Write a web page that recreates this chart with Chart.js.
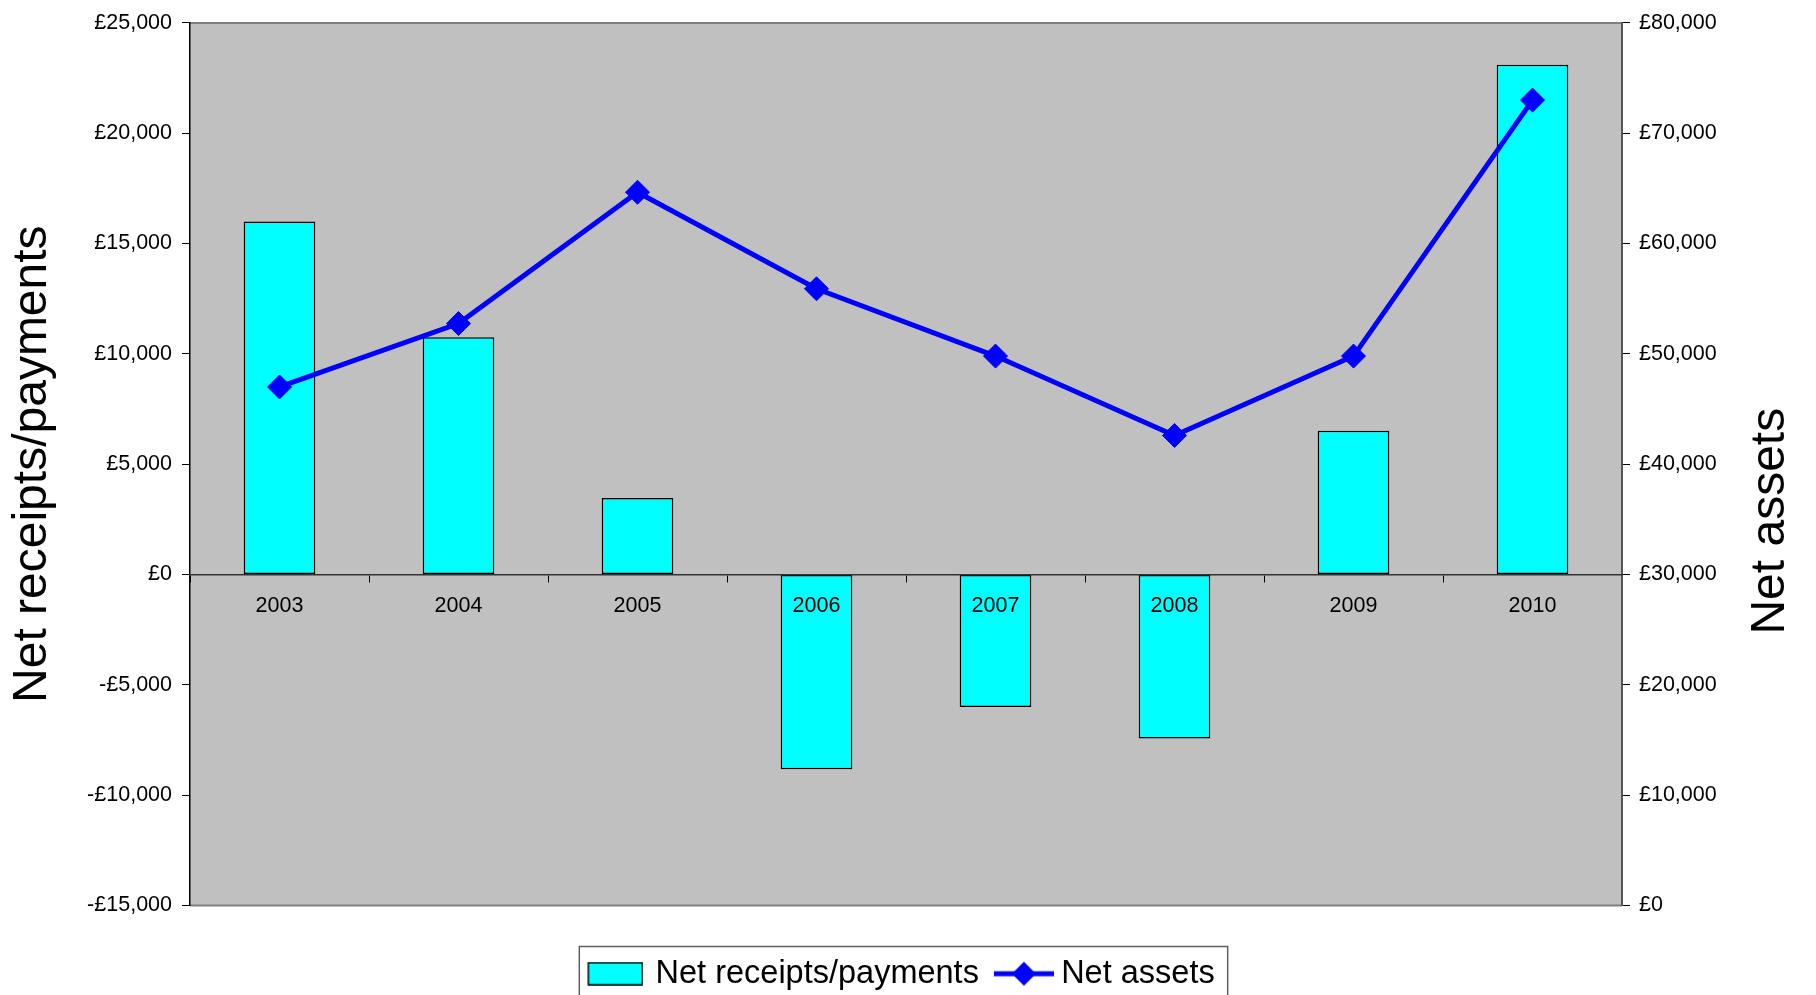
<!DOCTYPE html>
<html>
<head>
<meta charset="utf-8">
<script src="https://cdn.jsdelivr.net/npm/chart.js@4.4.1/dist/chart.umd.min.js"></script>
<style>
  html, body { margin: 0; padding: 0; background: #fff; overflow: hidden; }
  #wrap { width: 1816px; height: 995px; }
</style>
</head>
<body>
<div id="wrap"><canvas id="chart"></canvas></div>
<script>
// values
const years = ["2003", "2004", "2005", "2006", "2007", "2008", "2009", "2010"];
const netReceipts = [16000, 10750, 3470, -8830, -6000, -7430, 6520, 23100];
const netAssets = [47000, 52750, 64650, 55900, 49800, 42600, 49800, 73000];
const leftTicks = [-15000, -10000, -5000, 0, 5000, 10000, 15000, 20000, 25000];
const rightTicks = [0, 10000, 20000, 30000, 40000, 50000, 60000, 70000, 80000];

const FONT = '"Liberation Sans", Arial, sans-serif';
Chart.defaults.font.family = FONT;
Chart.defaults.color = "#000";

function pounds(v) {
  return (v < 0 ? "-" : "") + "£" + Math.abs(v).toLocaleString("en-GB");
}

// legend icons
function barIcon() {
  const c = document.createElement("canvas");
  c.width = 60; c.height = 24;
  const g = c.getContext("2d");
  g.fillStyle = "#00ffff";
  g.fillRect(5, 1, 54, 22);
  g.strokeStyle = "#000";
  g.lineWidth = 1.5;
  g.strokeRect(5, 1, 54, 22);
  return c;
}
function lineIcon() {
  const c = document.createElement("canvas");
  c.width = 70; c.height = 26;
  const g = c.getContext("2d");
  g.strokeStyle = "#0000ff";
  g.lineWidth = 5;
  g.beginPath(); g.moveTo(10, 13); g.lineTo(70, 13); g.stroke();
  g.fillStyle = "#0000ff";
  g.beginPath();
  g.moveTo(40, 1); g.lineTo(52, 13); g.lineTo(40, 25); g.lineTo(28, 13);
  g.closePath(); g.fill();
  return c;
}

const plotFrame = {
  id: "plotFrame",
  beforeDraw(chart) {
    const { ctx, chartArea: a } = chart;
    ctx.save();
    ctx.fillStyle = "#c0c0c0";
    ctx.fillRect(a.left, a.top, a.width, a.height);
    ctx.strokeStyle = "#808080";
    ctx.lineWidth = 2;
    ctx.beginPath();
    ctx.moveTo(a.left, a.top); ctx.lineTo(a.right, a.top);
    ctx.moveTo(a.left, a.bottom); ctx.lineTo(a.right, a.bottom);
    ctx.stroke();
    ctx.restore();
  },
  afterDraw(chart) {
    const { ctx, chartArea: a } = chart;
    // right axis title, reading upwards like the left one
    const r = chart.scales.y1;
    ctx.save();
    ctx.translate(r.right - 31, (a.top + a.bottom) / 2 + 57);
    ctx.rotate(-Math.PI / 2);
    ctx.font = "48px " + FONT;
    ctx.fillStyle = "#000";
    ctx.textAlign = "center";
    ctx.textBaseline = "middle";
    ctx.fillText("Net assets", 0, 0);
    ctx.restore();

    // frame round the legend
    const hb = chart.legend.legendHitBoxes;
    if (hb && hb.length) {
      const last = hb[hb.length - 1];
      const left = hb[0].left - 8;
      const right = last.left + last.width + 13;
      const top = hb[0].top - 11;
      ctx.save();
      ctx.strokeStyle = "#606060";
      ctx.lineWidth = 1.5;
      ctx.strokeRect(left, top, right - left, chart.height - top + 20);
      ctx.restore();
    }
  }
};

new Chart(document.getElementById("chart").getContext("2d"), {
  type: "bar",
  data: {
    labels: years,
    datasets: [
      {
        type: "bar",
        label: "Net receipts/payments",
        data: netReceipts,
        yAxisID: "y",
        backgroundColor: "#00ffff",
        borderColor: "#000",
        borderWidth: 1.5,
        borderSkipped: false,
        barPercentage: 0.4,
        categoryPercentage: 1,
        order: 1
      },
      {
        type: "line",
        label: "Net assets",
        data: netAssets,
        yAxisID: "y1",
        borderColor: "#0000ff",
        borderWidth: 5,
        pointStyle: "rectRot",
        pointRadius: 12,
        pointBackgroundColor: "#0000ff",
        pointBorderColor: "#0000ff",
        pointBorderWidth: 1,
        tension: 0,
        order: 0
      }
    ]
  },
  options: {
    responsive: true,
    maintainAspectRatio: false,
    animation: false,
    layout: { padding: { top: 18, bottom: -5, left: 0, right: 14 } },
    plugins: {
      tooltip: { enabled: false },
      legend: {
        position: "bottom",
        title: { display: true, text: "", padding: 0, font: { size: 31.7 } },
        labels: {
          usePointStyle: true,
          pointStyleWidth: 52,
          padding: 14,
          color: "#000",
          font: { size: 32.5 },
          generateLabels: () => [
            { text: "Net receipts/payments", pointStyle: barIcon(), datasetIndex: 0, hidden: false, lineWidth: 0 },
            { text: "Net assets", pointStyle: lineIcon(), datasetIndex: 1, hidden: false, lineWidth: 0 }
          ]
        }
      }
    },
    scales: {
      x: {
        position: { y: 0 },
        offset: true,
        grid: { drawOnChartArea: false, drawTicks: true, tickLength: 7, tickColor: "#000", offset: true },
        border: { color: "#333", width: 1.5, z: 1 },
        ticks: { color: "#000", font: { size: 21.5 }, padding: 12, maxRotation: 0, z: 1 }
      },
      y: {
        position: "left",
        min: -15000,
        max: 25000,
        afterBuildTicks: (s) => { s.ticks = leftTicks.map((v) => ({ value: v })); },
        afterFit: (s) => { s.width = 190; },
        grid: { drawOnChartArea: false, tickLength: 8, tickColor: "#000" },
        border: { color: "#000", width: 1.5 },
        ticks: { color: "#000", font: { size: 21.5 }, padding: 10, callback: (v) => pounds(v) },
        title: {
          display: true,
          text: "Net receipts/payments",
          color: "#000",
          font: { size: 48 },
          padding: { top: 4, bottom: 0 }
        }
      },
      y1: {
        position: "right",
        min: 0,
        max: 80000,
        afterBuildTicks: (s) => { s.ticks = rightTicks.map((v) => ({ value: v })); },
        afterFit: (s) => { s.width = 180; },
        grid: { drawOnChartArea: false, tickLength: 8, tickColor: "#000" },
        border: { color: "#555", width: 2 },
        ticks: { color: "#000", font: { size: 21.5 }, padding: 9, callback: (v) => pounds(v) }
      }
    }
  },
  plugins: [plotFrame]
});
</script>
</body>
</html>
